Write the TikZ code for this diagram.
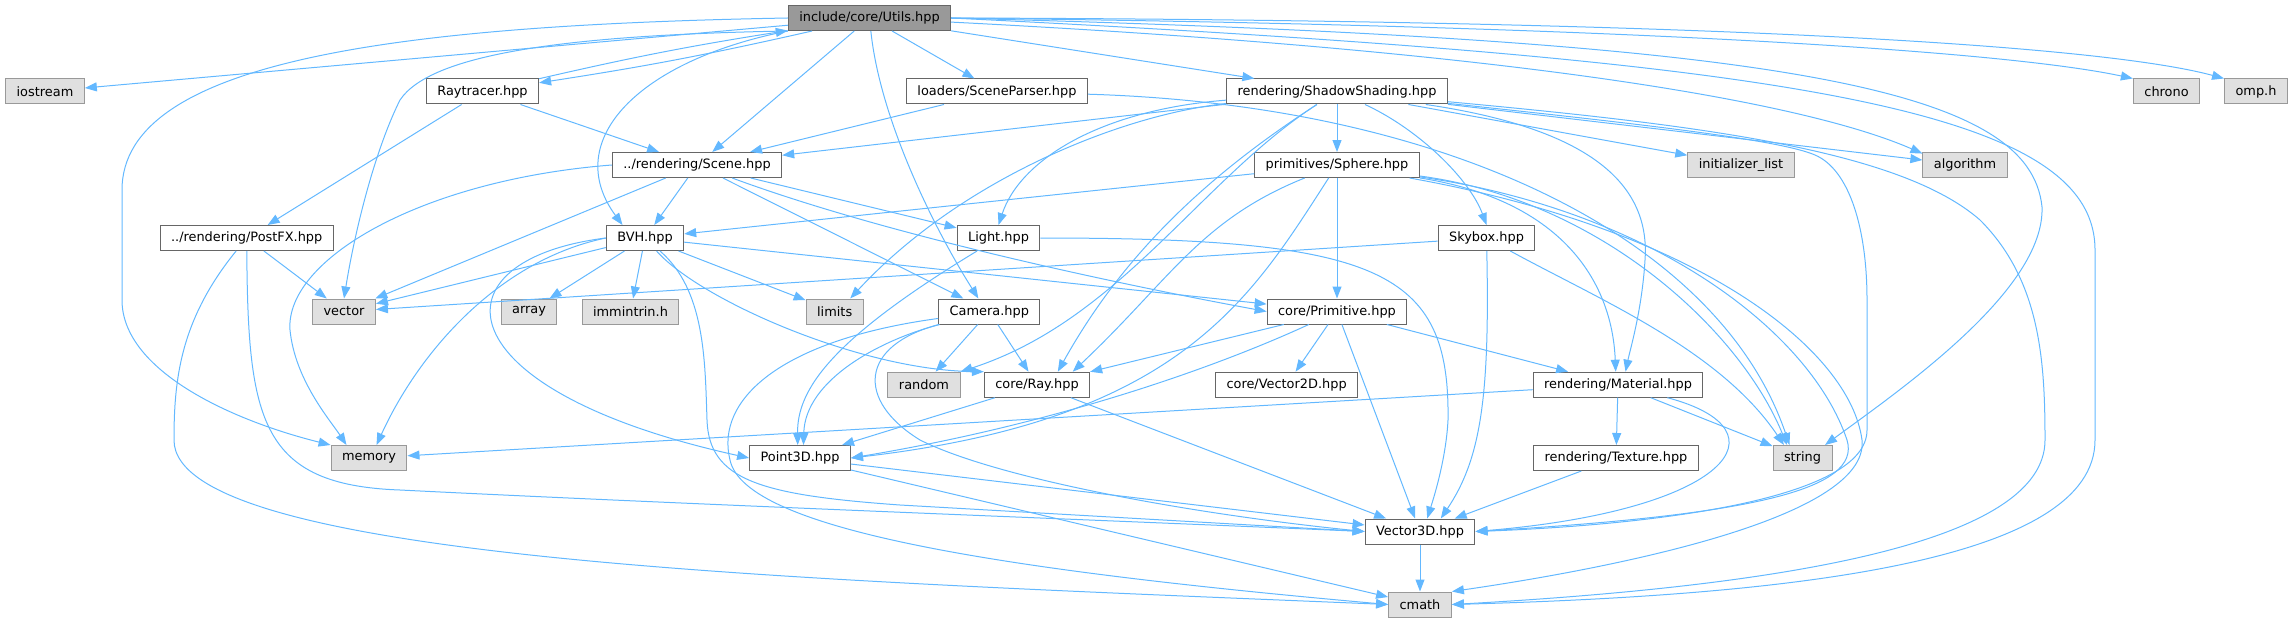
\documentclass[tikz,border=0pt]{standalone}
\usepackage{fontspec}
\setmainfont{DejaVu Sans}
\usepackage{xcolor}
\usetikzlibrary{arrows.meta}
\definecolor{depblue}{HTML}{63B8FF}
\definecolor{sysfill}{HTML}{E0E0E0}
\definecolor{rootfill}{HTML}{999999}
\definecolor{hdrline}{HTML}{666666}
\definecolor{sysline}{HTML}{999999}

\begin{document}
\begin{tikzpicture}[x=1pt, y=-1pt,
		hdr/.style={draw=hdrline, fill=white, line width=1pt, minimum height=25pt,
			inner xsep=11pt, inner ysep=0pt, font=\fontsize{12.9}{14}\selectfont},
		syshdr/.style={hdr, draw=sysline, fill=sysfill},
		roothdr/.style={hdr, fill=rootfill},
		dep/.style={-{Triangle[length=12pt, width=9pt]}, draw=depblue, line width=1pt}
	]
		\useasboundingbox (0,0) rectangle (2293,623);
		\node[roothdr] (utils) at (869.5,18) {include/core/Utils.hpp};
		\node[syshdr] (iostream) at (45,91.5) {iostream};
		\node[hdr] (raytracer) at (482.5,91.5) {Raytracer.hpp};
		\node[hdr] (parser) at (997,91.5) {loaders/SceneParser.hpp};
		\node[hdr] (shadow) at (1337,91.5) {rendering/ShadowShading.hpp};
		\node[syshdr] (chrono) at (2166.5,91.5) {chrono};
		\node[syshdr] (omp) at (2256,91.5) {omp.h};
		\node[hdr] (scene) at (697,165) {../rendering/Scene.hpp};
		\node[hdr] (sphere) at (1337,165) {primitives/Sphere.hpp};
		\node[syshdr] (initlist) at (1741,165) {initializer\_list};
		\node[syshdr] (algorithm) at (1965,165) {algorithm};
		\node[hdr] (postfx) at (246.7,238) {../rendering/PostFX.hpp};
		\node[hdr] (bvh) at (645,238) {BVH.hpp};
		\node[hdr] (light) at (998.5,238) {Light.hpp};
		\node[hdr] (skybox) at (1486.5,238) {Skybox.hpp};
		\node[syshdr] (vector) at (344,311.5) {vector};
		\node[syshdr] (array) at (529,311.5) {array};
		\node[syshdr] (immintrin) at (630.5,311.5) {immintrin.h};
		\node[syshdr] (limits) at (834.7,311.5) {limits};
		\node[hdr] (camera) at (989.3,311.5) {Camera.hpp};
		\node[hdr] (primitive) at (1337,311.5) {core/Primitive.hpp};
		\node[syshdr] (random) at (924,384.7) {random};
		\node[hdr] (ray) at (1037,384.7) {core/Ray.hpp};
		\node[hdr] (vectwo) at (1286.6,384.7) {core/Vector2D.hpp};
		\node[hdr] (material) at (1618,384.7) {rendering/Material.hpp};
		\node[syshdr] (memory) at (369,458) {memory};
		\node[hdr] (point) at (800,458) {Point3D.hpp};
		\node[hdr] (texture) at (1616,458) {rendering/Texture.hpp};
		\node[syshdr] (string) at (1802.5,458) {string};
		\node[hdr] (vecthree) at (1420,531.5) {Vector3D.hpp};
		\node[syshdr] (cmath) at (1420,604.5) {cmath};

		\draw[dep] (utils) -- (iostream);
		\draw[dep] (utils) to[bend left=2] (raytracer);
		\draw[dep] (raytracer) to[bend left=2] (utils);
		\draw[dep] (utils.west) .. controls (400,25) and (122,60) .. (122,190) -- (122,300) .. controls (122,370) and (230,420) .. (memory.north west);
		\draw[dep] (utils.south west) .. controls (560,35) and (430,55) .. (400,100) .. controls (375,150) and (355,230) .. (vector.north);
		\draw[dep] (utils) -- (scene);
		\draw[dep] (utils.south west) .. controls (640,60) and (560,140) .. (bvh.150);
		\draw[dep] (utils) .. controls (880,120) and (935,230) .. (camera.130);
		\draw[dep] (utils) -- (parser);
		\draw[dep] (utils) -- (shadow);
		\draw[dep] (utils) .. controls (1500,50) and (1800,100) .. (algorithm.165);
		\draw[dep] (utils.east) .. controls (1800,40) and (2030,90) .. (2042,207) .. controls (2045,290) and (1900,390) .. (string.30);
		\draw[dep] (utils.east) .. controls (1800,60) and (2095,110) .. (2095,250) -- (2095,440) .. controls (2095,560) and (1800,595) .. (cmath.east);
		\draw[dep] (utils.east) .. controls (1600,25) and (2000,50) .. (chrono.north west);
		\draw[dep] (utils.east) .. controls (1700,20) and (2100,45) .. (omp.north west);

		\draw[dep] (raytracer) -- (scene);
		\draw[dep] (raytracer) -- (postfx);

		\draw[dep] (parser) -- (scene);
		\draw[dep] (parser) .. controls (1450,105) and (1720,240) .. (string.135);

		\draw[dep] (postfx) -- (vector);
		\draw[dep] (postfx) .. controls (248,420) and (260,485) .. (400,490) .. controls (700,505) and (1100,520) .. (vecthree.west);
		\draw[dep] (postfx) .. controls (180,320) and (174,380) .. (174,440) .. controls (174,560) and (800,580) .. (cmath.west);

		\draw[dep] (scene) -- (bvh);
		\draw[dep] (scene) -- (light);
		\draw[dep] (scene) -- (camera);
		\draw[dep] (scene) .. controls (900,240) and (1150,290) .. (primitive.west);
		\draw[dep] (scene) -- (vector);
		\draw[dep] (scene.west) .. controls (420,180) and (285,260) .. (290,330) .. controls (295,380) and (330,420) .. (memory.150);

		\draw[dep] (bvh) -- (vector);
		\draw[dep] (bvh) -- (array);
		\draw[dep] (bvh) -- (immintrin);
		\draw[dep] (bvh) -- (limits);
		\draw[dep] (bvh.west) .. controls (500,260) and (420,350) .. (memory.60);
		\draw[dep] (bvh.west) .. controls (430,260) and (440,390) .. (point.west);
		\draw[dep] (bvh) .. controls (700,300) and (860,370) .. (ray.north west);
		\draw[dep] (bvh) .. controls (705,290) and (705,360) .. (707,420) .. controls (709,480) and (760,495) .. (900,505) -- (vecthree.west);
		\draw[dep] (bvh) -- (primitive);

		\draw[dep] (light) .. controls (830,340) and (797,390) .. (point.100);
		\draw[dep] (light.east) .. controls (1380,238) and (1450,270) .. (1448,420) .. controls (1446,460) and (1433,500) .. (vecthree.61);

		\draw[dep] (camera) -- (random);
		\draw[dep] (camera) -- (ray);
		\draw[dep] (camera) .. controls (880,340) and (805,380) .. (point.75);
		\draw[dep] (camera) .. controls (860,345) and (855,400) .. (920,440) .. controls (1000,480) and (1200,515) .. (vecthree.west);
		\draw[dep] (camera) .. controls (780,340) and (715,400) .. (730,460) .. controls (745,530) and (1000,570) .. (cmath.west);

		\draw[dep] (shadow) -- (scene);
		\draw[dep] (shadow) .. controls (1100,110) and (1020,160) .. (light.north);
		\draw[dep] (shadow) .. controls (1120,115) and (960,180) .. (limits.40);
		\draw[dep] (shadow) .. controls (1200,180) and (1120,320) .. (random.north east);
		\draw[dep] (shadow) .. controls (1200,180) and (1120,260) .. (ray.32);
		\draw[dep] (shadow) -- (sphere);
		\draw[dep] (shadow) .. controls (1420,130) and (1470,180) .. (skybox.north);
		\draw[dep] (shadow) -- (initlist);
		\draw[dep] (shadow) -- (algorithm);
		\draw[dep] (shadow) .. controls (1600,130) and (1650,190) .. (1645,260) .. controls (1642,310) and (1630,350) .. (material.60);
		\draw[dep] (shadow) .. controls (1650,125) and (1780,140) .. (1815,155) .. controls (1850,170) and (1867,230) .. (1867,300) -- (1867,430) .. controls (1867,500) and (1650,525) .. (vecthree.east);
		\draw[dep] (shadow) .. controls (1700,125) and (1900,150) .. (1980,220) .. controls (2040,280) and (2045,360) .. (2045,440) .. controls (2045,540) and (1800,585) .. (cmath.east);

		\draw[dep] (sphere) -- (bvh);
		\draw[dep] (sphere) -- (primitive);
		\draw[dep] (sphere) .. controls (1200,220) and (1170,280) .. (ray.20);
		\draw[dep] (sphere) .. controls (1250,300) and (1180,420) .. (point.east);
		\draw[dep] (sphere) .. controls (1560,200) and (1612,280) .. (material.100);
		\draw[dep] (sphere) .. controls (1600,200) and (1740,330) .. (string.140);
		\draw[dep] (sphere) .. controls (1650,210) and (1810,330) .. (1847,440) .. controls (1862,490) and (1750,515) .. (vecthree.east);
		\draw[dep] (sphere) .. controls (1700,230) and (1850,350) .. (1862,440) .. controls (1870,520) and (1600,570) .. (cmath.north east);

		\draw[dep] (skybox) -- (vector);
		\draw[dep] (skybox) .. controls (1490,400) and (1480,460) .. (vecthree.32);
		\draw[dep] (skybox) .. controls (1600,300) and (1720,350) .. (string.145);

		\draw[dep] (primitive) -- (ray);
		\draw[dep] (primitive) -- (vectwo);
		\draw[dep] (primitive) .. controls (1210,370) and (1050,425) .. (point.east);
		\draw[dep] (primitive) -- (vecthree);
		\draw[dep] (primitive) -- (material);

		\draw[dep] (ray) -- (point);
		\draw[dep] (ray) -- (vecthree);

		\draw[dep] (material) -- (memory);
		\draw[dep] (material) -- (texture);
		\draw[dep] (material) -- (string);
		\draw[dep] (material) .. controls (1790,430) and (1730,510) .. (vecthree.east);

		\draw[dep] (texture) -- (vecthree);
		\draw[dep] (point) -- (vecthree);
		\draw[dep] (point) -- (cmath);
		\draw[dep] (vecthree) -- (cmath);
	\end{tikzpicture}
\end{document}
